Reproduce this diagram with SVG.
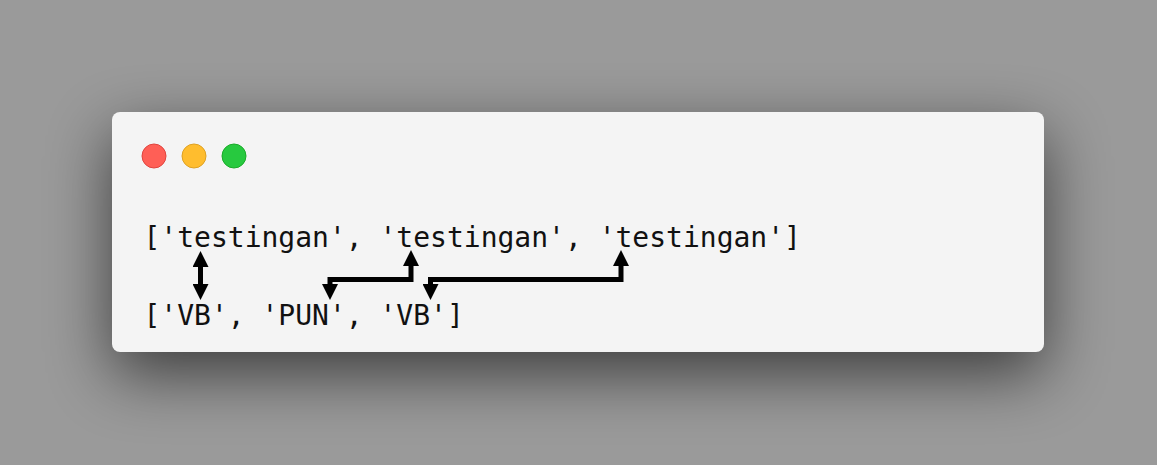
<svg xmlns="http://www.w3.org/2000/svg" width="1157" height="465" viewBox="0 0 1157 465">
  <style>
    .code { font-family: "DejaVu Sans Mono", "Liberation Mono", monospace; font-size: 28px; fill: #111; }
    .conn { fill: none; stroke: #000; stroke-width: 5; marker-start: url(#head); marker-end: url(#head); }
  </style>
  <defs>
    <filter id="shadow" x="-30%" y="-60%" width="160%" height="220%">
      <feGaussianBlur stdDeviation="32"/>
    </filter>
    <marker id="head" viewBox="0 0 16 16" markerWidth="16" markerHeight="16" markerUnits="userSpaceOnUse" refX="0" refY="8" orient="auto-start-reverse">
      <path d="M0,0 L16,8 L0,16 Z" fill="#000"/>
    </marker>
  </defs>
  <rect width="1157" height="465" fill="#9a9a9a"/>
  <rect x="112" y="134" width="932" height="240" rx="8" fill="#000" opacity="0.6" filter="url(#shadow)"/>
  <g id="window">
    <rect x="112" y="112" width="932" height="240" rx="8" fill="#f4f4f4"/>
    <circle cx="154" cy="156" r="12" fill="#ff5f56" stroke="#e0443e" stroke-width="1"/>
    <circle cx="194" cy="156" r="12" fill="#ffbd2e" stroke="#dea123" stroke-width="1"/>
    <circle cx="234" cy="156" r="12" fill="#27c93f" stroke="#1aab29" stroke-width="1"/>
  </g>
  <g id="tokens">
    <text class="code" x="143.5" y="247">['testingan', 'testingan', 'testingan']</text>
  </g>
  <g id="tags">
    <text class="code" x="143.5" y="325">['VB', 'PUN', 'VB']</text>
  </g>
  <g id="connectors">
    <path class="conn" d="M200.5,267 V284"/>
    <path class="conn" d="M330,284 V279.5 H411 V266"/>
    <path class="conn" d="M430.5,284 V279.5 H621 V266"/>
  </g>
</svg>
